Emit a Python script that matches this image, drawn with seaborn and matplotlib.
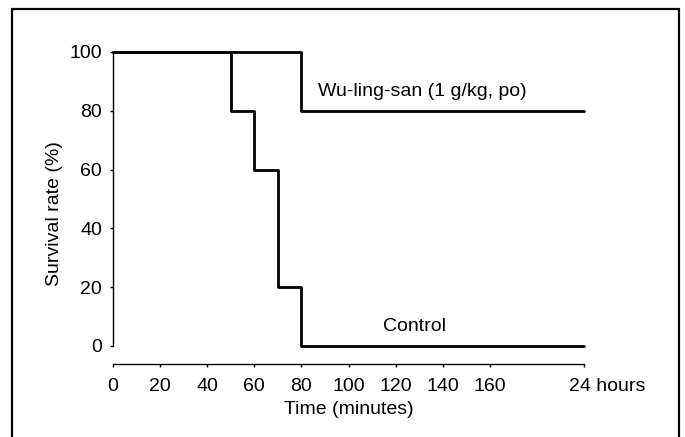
import matplotlib
matplotlib.use("Agg")
import matplotlib.pyplot as plt
import matplotlib.transforms as mtransforms
from matplotlib.patches import Rectangle
import seaborn as sns
import pandas as pd

# Data
control_time = [0, 50, 60, 70, 80, 200]
control_surv = [100, 80, 60, 20, 0, 0]
wls_time = [0, 80, 200]
wls_surv = [100, 80, 80]
xtick_pos = [0, 20, 40, 60, 80, 100, 120, 140, 160, 200]
xtick_labels = ["0", "20", "40", "60", "80", "100", "120", "140", "160", "24 hours"]
ytick_pos = [0, 20, 40, 60, 80, 100]

sns.set_theme(style="ticks")
plt.rcParams['font.family'] = ['Liberation Sans', 'DejaVu Sans']

W, H = 685, 437
fig = plt.figure(figsize=(W / 100, H / 100), dpi=100)
left, right, top, bottom = 113, 584, 52, 346
ax = fig.add_axes([left / W, 1 - bottom / H, (right - left) / W, (bottom - top) / H])

df = pd.concat([
    pd.DataFrame({"time": control_time, "surv": control_surv, "group": "Control"}),
    pd.DataFrame({"time": wls_time, "surv": wls_surv, "group": "Wu-ling-san"}),
])
sns.lineplot(data=df, x="time", y="surv", hue="group", palette=["black", "black"],
             estimator=None, drawstyle="steps-post", linewidth=2.0, legend=False,
             ax=ax, clip_on=False)

FS = 14
ax.set_xlim(0, 200)
ax.set_ylim(0, 100)
ax.set_xticks(xtick_pos)
ax.set_xticklabels(xtick_labels)
ax.set_yticks(ytick_pos)
ax.tick_params(axis="both", labelsize=FS, length=2.5, width=1.0, color="black", labelcolor="black")
ax.tick_params(axis="y", pad=5.5)
ax.tick_params(axis="x", pad=7.5)

for s in ["top", "right"]:
    ax.spines[s].set_visible(False)
ax.spines["bottom"].set_position(("outward", 13))
for s in ["left", "bottom"]:
    ax.spines[s].set_color("black")
    ax.spines[s].set_linewidth(1.0)

# shift the "24 hours" label to the right
lab = ax.get_xticklabels()[-1]
lab.set_transform(lab.get_transform() + mtransforms.ScaledTranslation(23 / 100, 0, fig.dpi_scale_trans))

ax.set_xlabel("Time (minutes)", fontsize=FS, color="black")
ax.set_ylabel("Survival rate (%)", fontsize=FS, color="black")
ax.xaxis.set_label_coords(0.5, -(410 - bottom) / (bottom - top), transform=ax.transAxes)
ax.yaxis.set_label_coords(-(left - 55) / (right - left), 1 - (214 - top) / (bottom - top))
ax.xaxis.label.set_va("center")
ax.yaxis.label.set_va("center")

ax.text(87.2, 86.4, "Wu-ling-san (1 g/kg, po)", fontsize=FS, ha="left", va="center", color="black")
ax.text(114.5, 6.5, "Control", fontsize=FS, ha="left", va="center", color="black")

# outer frame
fig.patches.append(Rectangle((12 / W, -0.1), (679 - 12) / W, 1.1 - 9 / H, transform=fig.transFigure,
                             fill=False, edgecolor="black", linewidth=1.6, clip_on=False))

fig.savefig("out.png", dpi=100)
